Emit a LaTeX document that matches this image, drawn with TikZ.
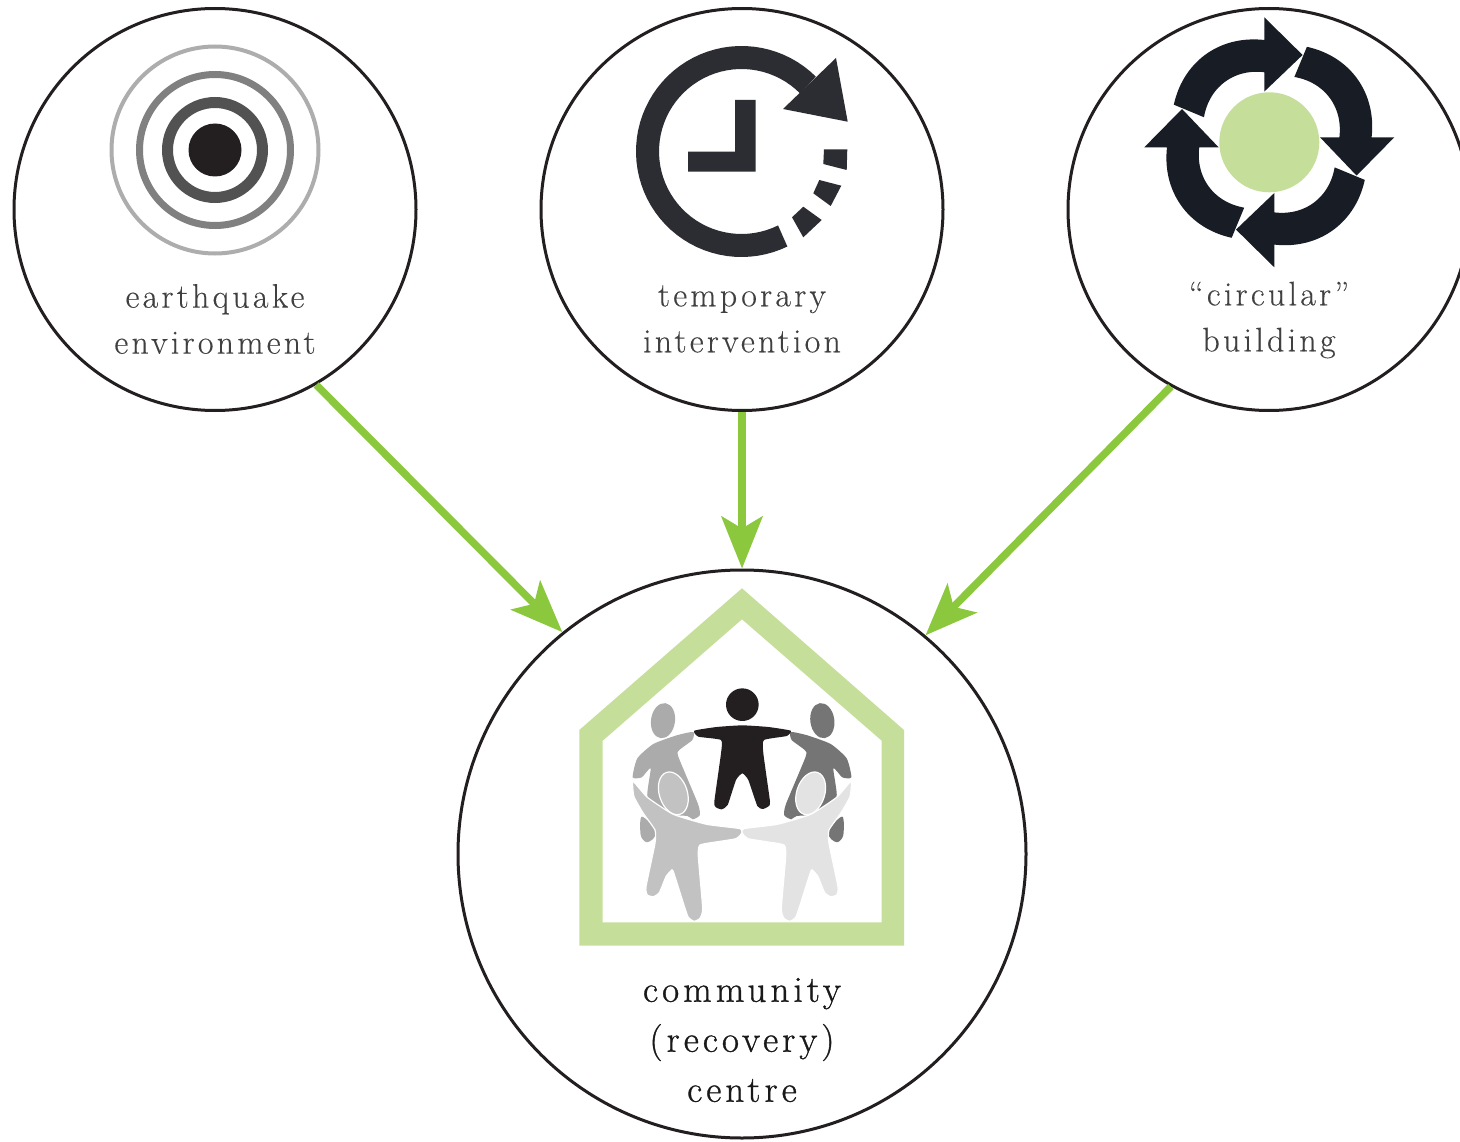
\documentclass[tikz,border=0pt]{standalone}
\usepackage{fontspec}
\usetikzlibrary{arrows.meta}
\newfontfamily\labfont{Latin Modern Roman}[LetterSpace=9.5,FakeBold=0.25]
\newfontfamily\labboldfont{Latin Modern Roman}[LetterSpace=11,FakeBold=0.9]
\definecolor{ringk}{HTML}{231F20}
\definecolor{leaf}{HTML}{8CC83E}
\definecolor{pale}{HTML}{C5DF9B}
\definecolor{clockk}{HTML}{2B2D33}
\definecolor{navyk}{HTML}{181C25}
\tikzset{
  bubble/.style={circle,draw=ringk,line width=3pt,inner sep=0pt,fill=none},
  flow/.style={draw=leaf,fill=leaf,line width=7.5pt,-{Stealth[length=52pt,width=41pt,inset=12pt]}},
  lab/.style={align=center,text=black!75,inner sep=0pt,font=\labfont\fontsize{34}{46}\selectfont},
  labmain/.style={align=center,text=black!90,inner sep=0pt,font=\labboldfont\fontsize{37}{50}\selectfont},
  backl/.style={fill=black!33},
  backr/.style={fill=black!54},
  frontl/.style={fill=black!24,draw=white,line width=1.2pt},
  frontr/.style={fill=black!11,draw=white,line width=1.2pt},
}
\def\backbody{plot[smooth cycle,tension=.35] coordinates {(400,456)(350,466)(280,492)(232,535)(218,592)(245,592)(272,565)(262,650)(300,700)(382,708)(398,718)(419,706)(414,672)(355,530)(358,510)(397,480)}}
\def\backfoot{plot[smooth cycle,tension=.5] coordinates {(245,710)(288,750)(278,778)(258,786)(242,765)}}
\def\frontbody{plot[smooth cycle,tension=.3] coordinates {(219,604)(262,652)(340,703)(440,733)(541,746)(545,760)(528,776)(480,784)(420,795)(415,830)(428,985)(420,1015)(402,1024)(385,1012)(375,985)(340,875)(333,872)(318,890)(298,938)(280,950)(262,945)(258,920)(285,790)(285,750)(250,700)(222,650)}}
\begin{document}
\begin{tikzpicture}[x=1pt,y=-1pt]
\clip (0,0) rectangle (1460,1142);
\fill[white] (0,0) rectangle (1460,1142);
% circles
\node[bubble,minimum size=402pt] (quake) at (215,209.5) {};
\node[bubble,minimum size=402pt] (temp) at (742,209.5) {};
\node[bubble,minimum size=402pt] (circ) at (1269,209.5) {};
\node[bubble,minimum size=568pt] (centre) at (742,854) {};
% connectors
\draw[flow] (quake.-60.5) -- (centre.129.2);
\draw[flow] (temp.-90) -- (centre.90);
\draw[flow] (circ.-119.5) -- (centre.50.8);
% rings icon
\fill[ringk] (215,150) circle (26.5);
\draw[black!68,line width=11pt] (215,150) circle (47.5);
\draw[black!50,line width=7pt] (215,150) circle (75.5);
\draw[black!32,line width=4pt] (215,150) circle (103.5);
% clock icon
\begin{scope}[clockk]
\draw[line width=23pt,clockk] plot[domain=64:315,samples=60,shift={(741.5,151.5)}] (\x:94);
\fill (847.7,121.7) -- (836,58) -- (783,109) -- cycle;
\fill (735,100) -- (755.7,100) -- (755.7,171.7) -- (688,171.7) -- (688,151.7) -- (735,151.7) -- cycle;
\fill (824,149.3) -- (847.3,149.3) -- (846.7,170) -- (823.3,164) -- cycle;
\fill (819.3,180) -- (841.3,185.7) -- (830.7,206) -- (813.3,193.3) -- cycle;
\fill (803.3,206.7) -- (821.7,220) -- (803.3,237.3) -- (792,217.3) -- cycle;
\end{scope}
% circular arrows icon
\foreach \a in {0,90,180,270}{
\begin{scope}[shift={(1269.3,142.3)},rotate=\a]
\fill[navyk] plot[domain=201.5:267.2,samples=30] (\x:{102.5+6*sin((\x-201)*180/66)}) -- (-5,-125) -- (33.3,-87.3) -- (-5,-50.7) -- (-5,-70) -- plot[domain=265:201,samples=30] (\x:{70+5*sin((\x-201)*180/66)}) -- cycle;
\end{scope}}
\fill[pale] (1269.3,142.3) circle (50);
% house
\fill[pale,even odd rule] (742,588.3) -- (904,730) -- (904,945.7) -- (579.3,945.7) -- (579.3,730) -- cycle
  (742,619.3) -- (881.7,740.7) -- (881.7,922.3) -- (602.7,922.3) -- (602.7,740.7) -- cycle;
% people
\begin{scope}[shift={(560,580)},x=0.33333pt,y=-0.33333pt]
\fill[backl] \backbody;
\fill[backl] \backfoot;
\fill[backl,shift={(309,422)},rotate=-8] (0,0) ellipse [x radius=36,y radius=53];
\begin{scope}[shift={(1092,0)},xscale=-1]
\fill[backr] \backbody;
\fill[backr] \backfoot;
\fill[backr,shift={(305,422)},rotate=-8] (0,0) ellipse [x radius=36,y radius=53];
\end{scope}
\fill[ringk] (547,374) circle (49);
\fill[ringk] plot[smooth cycle,tension=.3] coordinates {(403,452)(470,441)(547,436)(625,441)(692,452)(680,468)(612,480)(610,520)(630,665)(624,680)(608,687)(592,678)(565,600)(547,580)(528,600)(503,675)(485,688)(468,682)(463,665)(483,520)(483,480)(415,470)};
\filldraw[frontl,shift={(340,640)},rotate=18] (0,0) ellipse [x radius=42,y radius=66];
\draw[frontl] \frontbody;
\begin{scope}[shift={(1092,0)},xscale=-1]
\filldraw[frontr,shift={(340,640)},rotate=18] (0,0) ellipse [x radius=42,y radius=66];
\draw[frontr] \frontbody;
\end{scope}
\end{scope}
% labels
\node[lab] (t1) at (215,319) {earthquake\\environment};
\node[lab] (t2) at (742,319) {temporary\\intervention};
\node[lab] (t3) at (1269,320) {“circular”\\building};
\node[labmain] (t4) at (742,1040) {community\\(recovery)\\centre};
\end{tikzpicture}
\end{document}
